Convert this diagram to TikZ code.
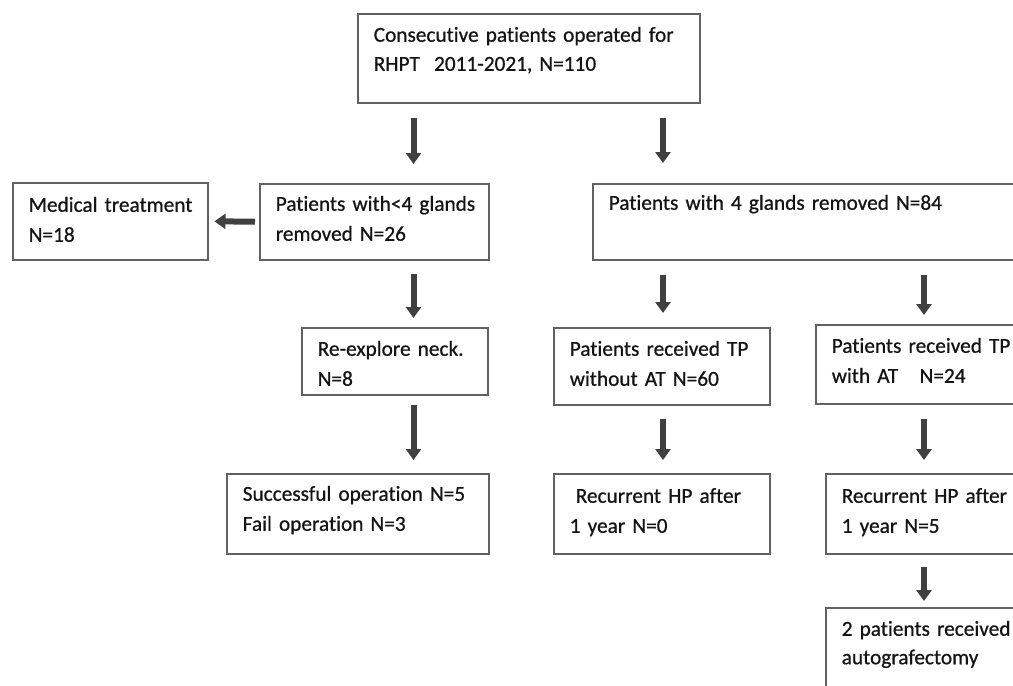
\documentclass[tikz,border=0pt]{standalone}
\usepackage{fontspec}
\setmainfont{Carlito}[Ligatures=NoCommon, FakeBold=0.7]
\usetikzlibrary{arrows.meta}
\newcommand\Lr[1]{\mbox{#1}}
\tikzset{
  box/.style={draw=black!62, line width=1.5pt, anchor=north west, inner xsep=16pt, inner ysep=0pt,
    align=left, text=black!92, font=\fontsize{21.3}{30}\selectfont},
  arr/.style={draw=black!75, line width=6pt, -{Triangle[width=15pt,length=11pt]}}
}
\begin{document}
\begin{tikzpicture}[x=1pt,y=-1pt]
\useasboundingbox (0,0) rectangle (1013,686);
\clip (0,0) rectangle (1013,686);
\coordinate (c1) at (413.5,0);
\coordinate (c2) at (663,0);
\coordinate (c3) at (924,0);
% boxes
\node[box, text width=310pt, text height=28pt, text depth=61pt, font=\fontsize{21.3}{29}\selectfont] (top) at (357,13)
  {\Lr{Consecutive patients operated for}\\\Lr{RHPT\ \ 2011-2021, N=110}};
\node[box, text width=163pt, text height=29pt, text depth=48pt] (med) at (12,182)
  {\Lr{Medical treatment}\\N=18};
\node[box, text width=197pt, text height=27pt, text depth=49pt] (lt4) at (259,183)
  {\Lr{Patients with<4 glands}\\\Lr{removed N=26}};
\node[box, text width=416pt, text height=26pt, text depth=50pt] (four) at (592,183)
  {\Lr{Patients with 4 glands removed N=84}};
\node[box, text width=154pt, text height=28pt, text depth=39pt] (reexp) at (301,327)
  {\Lr{Re-explore neck.}\\N=8};
\node[box, text width=230pt, text height=27pt, text depth=53pt] (succ) at (226,473)
  {\Lr{Successful operation N=5}\\\Lr{Fail operation N=3}};
\node[box, text width=184pt, text height=28pt, text depth=49pt] (woAT) at (553,327)
  {\Lr{Patients received TP}\\\Lr{without AT N=60}};
\node[box, text width=193pt, text height=28pt, text depth=51pt] (wAT) at (815,324)
  {\Lr{Patients received TP}\\\Lr{with AT\ \ \ N=24}};
\node[box, text width=184pt, text height=29pt, text depth=51pt] (rec0) at (553,473)
  {\Lr{\hspace*{6pt}Recurrent HP after}\\\Lr{1 year N=0}};
\node[box, text width=183pt, text height=29pt, text depth=51pt] (rec5) at (825,473)
  {\Lr{Recurrent HP after}\\\Lr{1 year N=5}};
\node[box, text width=183pt, text height=28pt, text depth=65pt, font=\fontsize{21.3}{28.5}\selectfont] (two) at (825,607)
  {\Lr{2 patients received}\\\Lr{autografectomy}};
% arrows
\draw[arr, shorten <=14pt, shorten >=19pt] (top.south -| c1) -- (lt4.north -| c1);
\draw[arr, shorten <=14pt, shorten >=20pt] (top.south -| c2) -- (four.north -| c2);
\draw[arr, shorten <=4pt, shorten >=6pt] (lt4.west) -- (med.east);
\draw[arr, shorten <=13pt, shorten >=9pt] (lt4.south -| c1) -- (reexp.north -| c1);
\draw[arr, shorten <=9pt, shorten >=13pt] (reexp.south -| c1) -- (succ.north -| c1);
\draw[arr, shorten <=14pt, shorten >=14pt] (four.south -| c2) -- (woAT.north -| c2);
\draw[arr, shorten <=14pt, shorten >=9pt] (four.south -| c3) -- (wAT.north -| c3);
\draw[arr, shorten <=13pt, shorten >=13pt] (woAT.south -| c2) -- (rec0.north -| c2);
\draw[arr, shorten <=14pt, shorten >=13pt] (wAT.south -| c3) -- (rec5.north -| c3);
\draw[arr, shorten <=12pt, shorten >=6pt] (rec5.south -| c3) -- (two.north -| c3);
\end{tikzpicture}
\end{document}
